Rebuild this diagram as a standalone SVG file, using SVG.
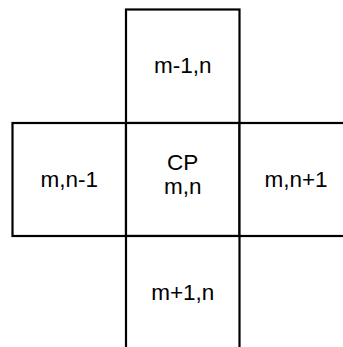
<svg xmlns="http://www.w3.org/2000/svg" width="343" height="347" viewBox="0 0 343 347">
  <style>
    .cell { fill: #ffffff; stroke: #000000; stroke-width: 2.2; }
    .lbl { font-family: "Liberation Sans", Arial, sans-serif; font-size: 22.5px; fill: #000000; text-anchor: middle; }
  </style>
  <rect width="343" height="347" fill="#ffffff"/>
  <!-- five-point stencil: centre cell and its four neighbours -->
  <g id="cell-m-1-n">
    <rect class="cell" x="126" y="9.5" width="113.5" height="113.5"/>
    <text class="lbl" x="182.75" y="73">m-1,n</text>
  </g>
  <g id="cell-m-n-1">
    <rect class="cell" x="12.5" y="123" width="113.5" height="113"/>
    <text class="lbl" x="69.25" y="187">m,n-1</text>
  </g>
  <g id="cell-m-n">
    <rect class="cell" x="126" y="123" width="113.5" height="113"/>
    <text class="lbl" x="182.75" y="170">CP</text>
    <text class="lbl" x="182.75" y="194">m,n</text>
  </g>
  <g id="cell-m-n+1">
    <rect class="cell" x="239.5" y="123" width="113.5" height="113"/>
    <text class="lbl" x="296" y="187">m,n+1</text>
  </g>
  <g id="cell-m+1-n">
    <rect class="cell" x="126" y="236" width="113.5" height="113.5"/>
    <text class="lbl" x="182.75" y="300">m+1,n</text>
  </g>
</svg>
